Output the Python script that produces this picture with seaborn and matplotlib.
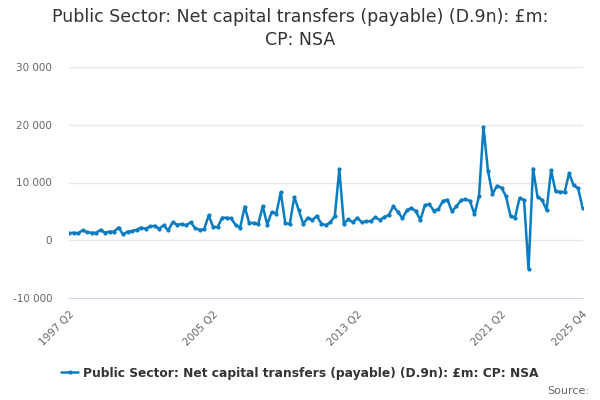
import pandas as pd
import numpy as np
import matplotlib
matplotlib.use("Agg")
import matplotlib.pyplot as plt
import seaborn as sns
from matplotlib.lines import Line2D

sns.set_style("white")
plt.rcParams['font.family'] = ['DejaVu Sans']

#quarterly values, 1997 Q2 .. 2025 Q4 (£m)
values = [1200, 1300, 1200, 1700, 1400, 1300, 1300, 1800, 1300, 1500, 1500, 2200,
          1000, 1500, 1600, 1800, 2200, 2000, 2400, 2500, 2000, 2600, 1700, 3100,
          2700, 2800, 2600, 3100, 2100, 1800, 1900, 4300, 2300, 2300, 3900, 3900,
          3800, 2600, 2200, 5800, 3000, 3000, 2800, 5900, 2700, 4900, 4600, 8300,
          3000, 2800, 7500, 5200, 2800, 3900, 3500, 4200, 2900, 2600, 3100, 4200,
          12300, 2900, 3600, 3100, 3900, 3100, 3300, 3300, 4000, 3500, 4000, 4400,
          5900, 4900, 3800, 5200, 5600, 5000, 3500, 6100, 6200, 5100, 5400, 6800,
          7000, 5000, 5900, 6900, 7100, 6800, 4500, 7600, 19600, 12000, 8000, 9400,
          9100, 7600, 4200, 3900, 7300, 7000, -5000, 12400, 7500, 7000, 5200, 12100,
          8500, 8400, 8300, 11600, 9500, 9000, 5600]
quarters = [f"{1997 + (q + 1) // 4} Q{(q + 1) % 4 + 1}" for q in range(len(values))]
label_quarters = ["1997 Q2", "2005 Q2", "2013 Q2", "2021 Q2", "2025 Q4"]
yticks = [-10000, 0, 10000, 20000, 30000]
series_name = "Public Sector: Net capital transfers (payable) (D.9n): £m: CP: NSA"

dat = pd.DataFrame({"idx": np.arange(len(values)), "quarter": quarters, "value": values})
blue = "#0a7cc1"

fig = plt.figure(figsize=(6, 4), dpi=100)
ax = fig.add_axes([0.115, 0.255, 0.856, 0.5775])
sns.lineplot(data=dat, x="idx", y="value", ax=ax, color=blue, linewidth=1.8,
             marker="o", markersize=3, markeredgewidth=0)

ax.set_xlim(0, len(values) - 1)
ax.set_ylim(-10000, 30000)
ax.set_yticks(yticks)
ax.set_yticklabels([f"{v:,}".replace(",", " ") for v in yticks], fontsize=7.5, color="#666666")
ax.yaxis.grid(True, color="#e6e6e6", linewidth=1)
ax.tick_params(axis="y", length=0, pad=12)

ticks = list(range(0, len(values), 8)) + [len(values) - 1]
ax.set_xticks(ticks)
ax.set_xticklabels([quarters[t] if quarters[t] in label_quarters else "" for t in ticks],
                   rotation=45, ha="right", rotation_mode="anchor", fontsize=7.5, color="#666666")
ax.tick_params(axis="x", length=5, color="#ccd6eb", width=1, pad=3)
ax.set_xlabel("")
ax.set_ylabel("")
for s in ["left", "top", "right"]:
    ax.spines[s].set_visible(False)
ax.spines["bottom"].set_color("#ccd6eb")

fig.text(0.5, 0.928, "Public Sector: Net capital transfers (payable) (D.9n): £m:\nCP: NSA",
         ha="center", va="center", fontsize=12.5, color="#333333", linespacing=1.35)

handle = Line2D([], [], color=blue, linewidth=1.8, marker="o", markersize=3, markeredgewidth=0)
fig.legend([handle], [series_name], loc="center", bbox_to_anchor=(0.5, 0.067), frameon=False,
           prop={"size": 8.8, "weight": "bold"}, labelcolor="#333333", handlelength=1.4, handletextpad=0.4)
fig.text(0.982, 0.022, "Source:", ha="right", va="center", fontsize=8, color="#666666")

fig.savefig("out.png", dpi=100)
